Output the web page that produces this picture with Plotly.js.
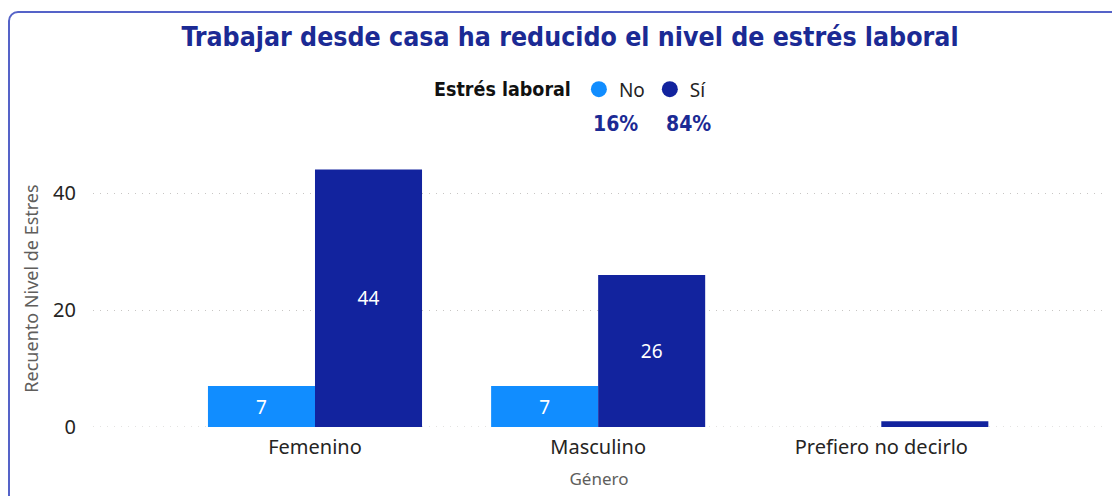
<!DOCTYPE html>
<html>
<head>
<meta charset="utf-8">
<script src="https://cdn.plot.ly/plotly-3.0.1.min.js"></script>
<style>
  html, body { margin:0; padding:0; background:#fff; }
  #wrap { position:relative; width:1112px; height:496px; overflow:hidden; }
  #chart { position:absolute; left:0; top:0; width:1112px; height:496px; }
  #card { position:absolute; left:8px; top:11px; width:1200px; height:600px;
          border:2px solid #5563C8; border-radius:10px; pointer-events:none; box-sizing:border-box; }
</style>
</head>
<body>
<div id="wrap">
  <div id="chart"></div>
  <div id="card"></div>
</div>
<script>
// ---- data ----
const categories = ["Femenino", "Masculino", "Prefiero no decirlo"];
const seriesNames = ["No", "Sí"];
const valuesNo = [7, 7, 0];
const valuesSi = [44, 26, 1];
const yTicks = [0, 20, 40];

const colNo = "#118DFF";
const colSi = "#12239E";
const titleBlue = "#1B2A94";
const baseFont = "'Noto Sans', 'Open Sans', sans-serif";
const narrowFont = "'Liberation Sans Narrow', 'DejaVu Sans Condensed', 'DejaVu Sans', sans-serif";

const totNo = valuesNo.reduce((a, b) => a + b, 0);
const totSi = valuesSi.reduce((a, b) => a + b, 0);
const pctNo = Math.round(100 * totNo / (totNo + totSi)) + "%";
const pctSi = Math.round(100 * totSi / (totNo + totSi)) + "%";

function barTrace(name, vals, color) {
  return {
    type: "bar", name: name, x: categories, y: vals,
    marker: { color: color }, showlegend: false,
    text: vals.map(String), textposition: "inside", insidetextanchor: "middle",
    textfont: { color: "#ffffff", size: 19, family: baseFont },
    hoverinfo: "x+y+name", cliponaxis: false
  };
}
function legendTrace(name, color) {
  return {
    type: "scatter", mode: "markers", name: name, x: [null], y: [null],
    marker: { color: color, size: 16, symbol: "circle" }, showlegend: true
  };
}

const data = [
  barTrace(seriesNames[0], valuesNo, colNo),
  barTrace(seriesNames[1], valuesSi, colSi),
  legendTrace(seriesNames[0], colNo),
  legendTrace(seriesNames[1], colSi)
];

const layout = {
  width: 1112, height: 496,
  margin: { l: 93, r: 7, t: 150, b: 69 },
  paper_bgcolor: "#ffffff", plot_bgcolor: "#ffffff",
  font: { family: baseFont, color: "#252423" },
  barmode: "group", bargap: 0.244, bargroupgap: 0,
  title: {
    text: "<b>Trabajar desde casa ha reducido el nivel de estrés laboral</b>",
    font: { family: narrowFont, size: 26.5, color: titleBlue },
    x: (570 - 93) / 1012, xanchor: "center", xref: "paper", y: 1 - 37 / 496, yanchor: "middle", yref: "container"
  },
  showlegend: true,
  legend: {
    orientation: "h", x: (572 - 93) / 1012, xanchor: "center", y: 1.219, yanchor: "middle",
    title: { text: "<b>Estrés laboral</b>", font: { size: 19.5, color: "#111111", family: narrowFont } },
    font: { size: 19, color: "#252423", family: baseFont },
    itemwidth: 30, tracegroupgap: 0
  },
  xaxis: {
    type: "category", range: [-0.784, 2.79],
    showgrid: false, zeroline: false, showline: false, ticks: "",
    ticklabelstandoff: 6,
    tickfont: { size: 20, color: "#252423" },
    title: { text: "Género", font: { size: 17, color: "#605E5C" }, standoff: 14 },
    fixedrange: true
  },
  yaxis: {
    range: [0, 47.35], tickvals: yTicks, ticktext: yTicks.map(String),
    showgrid: true, gridcolor: "#C8C6C4", griddash: "1px,6px", gridwidth: 1,
    zeroline: false, showline: false, ticks: "",
    ticklabelstandoff: 16,
    tickfont: { size: 20, color: "#252423" },
    title: { text: "Recuento Nivel de Estres", font: { size: 18, color: "#605E5C" }, standoff: 9 },
    fixedrange: true
  },
  shapes: [
    { type: "line", xref: "paper", x0: 0, x1: 1, yref: "y", y0: 0, y1: 0,
      line: { color: "#C8C6C4", width: 1, dash: "1px,6px" }, layer: "below" }
  ],
  uniformtext: { minsize: 13, mode: "hide" },
  annotations: [
    { text: "<b>" + pctNo + "</b>", xref: "paper", yref: "paper", x: (615 - 93) / 1012, y: (427 - 124) / 277,
      showarrow: false, xanchor: "center", yanchor: "middle",
      font: { size: 21, color: titleBlue, family: narrowFont } },
    { text: "<b>" + pctSi + "</b>", xref: "paper", yref: "paper", x: (688 - 93) / 1012, y: (427 - 124) / 277,
      showarrow: false, xanchor: "center", yanchor: "middle",
      font: { size: 21, color: titleBlue, family: narrowFont } }
  ]
};

Plotly.newPlot("chart", data, layout, { displayModeBar: false, staticPlot: true });
</script>
</body>
</html>
